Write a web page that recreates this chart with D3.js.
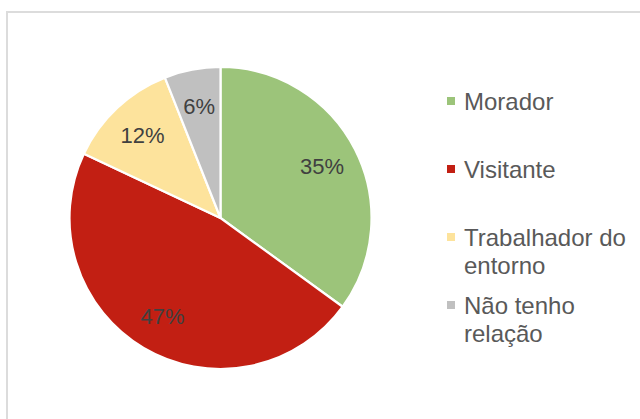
<!DOCTYPE html>
<html>
<head>
<meta charset="utf-8">
<script src="https://cdn.jsdelivr.net/npm/d3@7"></script>
<style>
  html, body { margin: 0; padding: 0; background: #ffffff; }
  svg { display: block; }
</style>
</head>
<body>
<svg id="chart" width="640" height="419"></svg>
<script>
const categories = ["Morador", "Visitante", "Trabalhador do entorno", "Não tenho relação"];
const values = [35, 47, 12, 6];
const colors = ["#9cc47a", "#c21f13", "#fde39c", "#c0c0c0"];
const labels = ["35%", "47%", "12%", "6%"];

const svg = d3.select("#chart");

// chart area border
svg.append("rect")
  .attr("x", 7).attr("y", 12)
  .attr("width", 700).attr("height", 500)
  .attr("fill", "#ffffff")
  .attr("stroke", "#dcdcdc")
  .attr("stroke-width", 2);

const cx = 220.5, cy = 218, R = 151;
const data = categories.map((c, i) => ({ name: c, value: values[i], color: colors[i], label: labels[i] }));

const pie = d3.pie().value(d => d.value).sort(null).startAngle(0).endAngle(2 * Math.PI);
const arcs = pie(data);
const arc = d3.arc().innerRadius(0).outerRadius(R);
const labelArc = d3.arc().innerRadius(114).outerRadius(114);

const g = svg.append("g").attr("transform", `translate(${cx},${cy})`);
g.selectAll("path.slice")
  .data(arcs)
  .join("path")
  .attr("class", "slice")
  .attr("d", arc)
  .attr("fill", d => d.data.color)
  .attr("stroke", "#ffffff")
  .attr("stroke-width", 2.2)
  .attr("stroke-linejoin", "round");

g.selectAll("text.lbl")
  .data(arcs)
  .join("text")
  .attr("class", "lbl")
  .attr("transform", d => `translate(${labelArc.centroid(d)})`)
  .attr("text-anchor", "middle")
  .attr("dy", "0.35em")
  .attr("font-family", "'Liberation Sans', Arial, sans-serif")
  .attr("font-size", 22)
  .attr("fill", "#404040")
  .text(d => d.data.label);

// legend
const legendX = 451, textX = 464, firstBase = 110, step = 68, lineH = 28, maxW = 175;
const legend = svg.append("g");
data.forEach((d, i) => {
  const base = firstBase + i * step;
  legend.append("rect")
    .attr("x", legendX - 4).attr("y", base - 13)
    .attr("width", 8).attr("height", 8)
    .attr("fill", d.color);
  const t = legend.append("text")
    .attr("x", textX).attr("y", base)
    .attr("font-family", "'Liberation Sans', Arial, sans-serif")
    .attr("font-size", 24)
    .attr("fill", "#595959");
  const words = d.name.split(" ");
  let line = [];
  let tspan = t.append("tspan").attr("x", textX).attr("y", base);
  let lineNo = 0;
  words.forEach(w => {
    line.push(w);
    tspan.text(line.join(" "));
    if (tspan.node().getComputedTextLength() > maxW && line.length > 1) {
      line.pop();
      tspan.text(line.join(" "));
      line = [w];
      lineNo++;
      tspan = t.append("tspan").attr("x", textX).attr("y", base + lineNo * lineH).text(w);
    }
  });
});
</script>
</body>
</html>
